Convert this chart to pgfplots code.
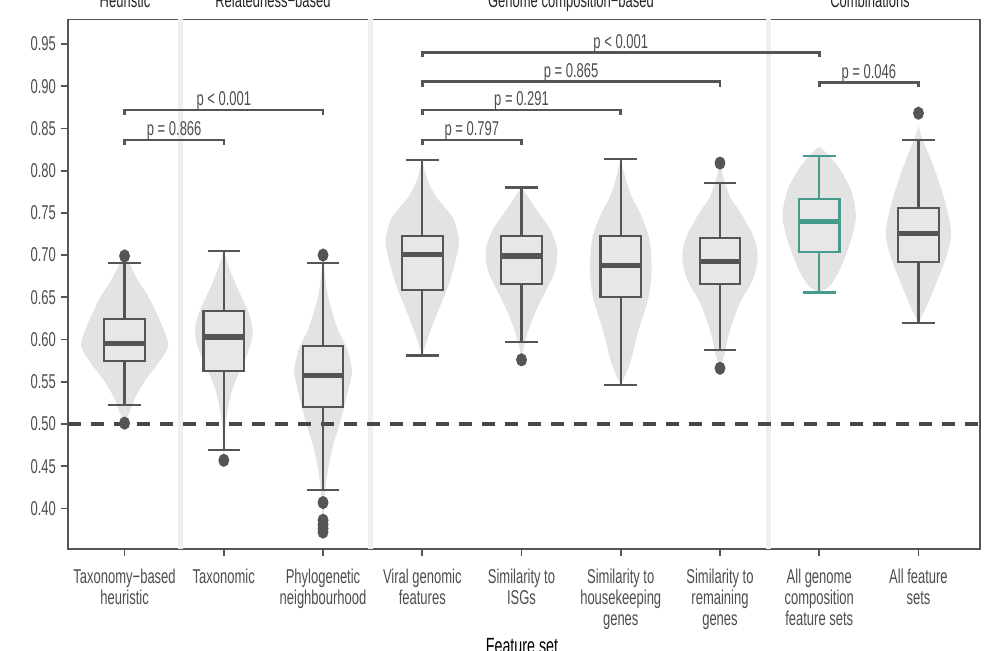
\documentclass[border=0pt]{standalone}
\usepackage{fontspec}
\setmainfont[FakeStretch=0.65]{Liberation Sans}
\usepackage{pgfplots}
\usepackage{pgfplotstable}
\pgfplotsset{compat=1.18}
\usepgfplotslibrary{statistics}

\definecolor{vgrey}{HTML}{E3E3E3}
\definecolor{bgrey}{HTML}{E7E7E7}
\definecolor{lgrey}{HTML}{555555}
\definecolor{tgrey}{HTML}{4D4D4D}
\definecolor{sepgrey}{HTML}{EFEFEF}
\definecolor{teal8}{RGB}{70,155,140}

% violin outlines: y, half-width (category units)
\pgfplotstableread{
y w
0.500 0
0.517 0.06
0.532 0.11
0.552 0.21
0.572 0.34
0.592 0.44
0.610 0.40
0.627 0.34
0.651 0.24
0.671 0.13
0.690 0.05
0.700 0
}\vA
\pgfplotstableread{
y w
0.457 0
0.480 0.01
0.502 0.02
0.524 0.05
0.546 0.10
0.570 0.19
0.594 0.27
0.613 0.29
0.632 0.25
0.650 0.18
0.671 0.10
0.690 0.04
0.706 0
}\vB
\pgfplotstableread{
y w
0.370 0
0.390 0.01
0.418 0.02
0.446 0.05
0.474 0.10
0.501 0.17
0.533 0.24
0.560 0.29
0.572 0.28
0.590 0.24
0.612 0.15
0.630 0.10
0.651 0.05
0.675 0.02
0.700 0
}\vC
\pgfplotstableread{
y w
0.581 0
0.603 0.06
0.631 0.15
0.663 0.26
0.691 0.33
0.714 0.37
0.730 0.35
0.746 0.30
0.769 0.14
0.790 0.05
0.813 0
}\vD
\pgfplotstableread{
y w
0.576 0
0.590 0.02
0.611 0.07
0.635 0.15
0.659 0.25
0.682 0.34
0.706 0.36
0.730 0.29
0.754 0.15
0.770 0.06
0.780 0
}\vE
\pgfplotstableread{
y w
0.546 0
0.571 0.09
0.611 0.18
0.650 0.28
0.682 0.31
0.718 0.29
0.746 0.21
0.769 0.11
0.790 0.05
0.814 0
}\vF
\pgfplotstableread{
y w
0.566 0
0.585 0.05
0.611 0.10
0.643 0.20
0.671 0.33
0.695 0.38
0.718 0.35
0.746 0.23
0.769 0.10
0.790 0.04
0.809 0
}\vG
\pgfplotstableread{
y w
0.656 0
0.660 0.07
0.667 0.13
0.686 0.22
0.718 0.32
0.746 0.37
0.777 0.32
0.805 0.19
0.820 0.08
0.8285 0
}\vH
\pgfplotstableread{
y w
0.620 0
0.639 0.08
0.667 0.18
0.698 0.28
0.726 0.33
0.7575 0.28
0.789 0.20
0.8207 0.10
0.840 0.03
0.855 0
}\vI

\begin{document}
\begin{tikzpicture}
\begin{axis}[
  name=ax, at={(0,0)}, anchor=south west,
  scale only axis, width=456pt, height=264.75pt,
  xmin=0.43, xmax=9.62, ymin=0.352, ymax=0.979,
  xtick={1,2,3,4,5,6,7,8,9},
  xticklabels={{Taxonomy−based\\heuristic},{Taxonomic},{Phylogenetic\\neighbourhood},{Viral genomic\\features},{Similarity to\\ISGs},{Similarity to\\housekeeping\\genes},{Similarity to\\remaining\\genes},{All genome\\composition\\feature sets},{All feature\\sets}},
  ytick={0.40,0.45,0.50,0.55,0.60,0.65,0.70,0.75,0.80,0.85,0.90,0.95},
  yticklabel style={xshift=1pt, /pgf/number format/.cd, fixed, fixed zerofill, precision=2, assume math mode=true},
  tick align=outside, xtick pos=bottom, ytick pos=left,
  major tick length=3.5pt,
  tick style={lgrey, line width=0.9pt},
  axis line style={lgrey, line width=0.6pt},
  ticklabel style={font=\fontsize{10}{10.5}\selectfont, text=tgrey},
  xticklabel style={align=center, anchor=north, yshift=-3pt},
  boxplot/every median/.style={line width=2.6pt},
  boxplot/draw direction=y,
]
% panel separators
\addplot[sepgrey, line width=2.5pt] coordinates {(1.56,0.352) (1.56,0.979)};
\addplot[sepgrey, line width=2.5pt] coordinates {(3.475,0.352) (3.475,0.979)};
\addplot[sepgrey, line width=2.5pt] coordinates {(7.49,0.352) (7.49,0.979)};

% violins (two halves each)
\addplot[fill=vgrey, draw=none, smooth] table[x expr=1-\thisrow{w}, y=y] {\vA};
\addplot[fill=vgrey, draw=none, smooth] table[x expr=1+\thisrow{w}, y=y] {\vA};
\addplot[fill=vgrey, draw=none, smooth] table[x expr=2-\thisrow{w}, y=y] {\vB};
\addplot[fill=vgrey, draw=none, smooth] table[x expr=2+\thisrow{w}, y=y] {\vB};
\addplot[fill=vgrey, draw=none, smooth] table[x expr=3-\thisrow{w}, y=y] {\vC};
\addplot[fill=vgrey, draw=none, smooth] table[x expr=3+\thisrow{w}, y=y] {\vC};
\addplot[fill=vgrey, draw=none, smooth] table[x expr=4-\thisrow{w}, y=y] {\vD};
\addplot[fill=vgrey, draw=none, smooth] table[x expr=4+\thisrow{w}, y=y] {\vD};
\addplot[fill=vgrey, draw=none, smooth] table[x expr=5-\thisrow{w}, y=y] {\vE};
\addplot[fill=vgrey, draw=none, smooth] table[x expr=5+\thisrow{w}, y=y] {\vE};
\addplot[fill=vgrey, draw=none, smooth] table[x expr=6-\thisrow{w}, y=y] {\vF};
\addplot[fill=vgrey, draw=none, smooth] table[x expr=6+\thisrow{w}, y=y] {\vF};
\addplot[fill=vgrey, draw=none, smooth] table[x expr=7-\thisrow{w}, y=y] {\vG};
\addplot[fill=vgrey, draw=none, smooth] table[x expr=7+\thisrow{w}, y=y] {\vG};
\addplot[fill=vgrey, draw=none, smooth] table[x expr=8-\thisrow{w}, y=y] {\vH};
\addplot[fill=vgrey, draw=none, smooth] table[x expr=8+\thisrow{w}, y=y] {\vH};
\addplot[fill=vgrey, draw=none, smooth] table[x expr=9-\thisrow{w}, y=y] {\vI};
\addplot[fill=vgrey, draw=none, smooth] table[x expr=9+\thisrow{w}, y=y] {\vI};

% reference line
\addplot[color=black!72, line width=1.6pt, dash pattern=on 6.5pt off 5pt] coordinates {(0.43,0.5) (9.62,0.5)};

% boxes
\pgfplotsset{bx/.style={draw=lgrey, fill=bgrey, line width=1.1pt, mark=*, mark size=2.7pt, mark options={fill=lgrey, draw=lgrey, xscale=0.8, solid}}}
\addplot[bx, boxplot prepared={draw position=1, box extend=0.41, lower whisker=0.5225, lower quartile=0.575, median=0.595, upper quartile=0.624, upper whisker=0.691}] table[row sep=\\, y index=0] {0.699\\0.501\\};
\addplot[bx, boxplot prepared={draw position=2, box extend=0.41, lower whisker=0.469, lower quartile=0.563, median=0.603, upper quartile=0.634, upper whisker=0.705}] table[row sep=\\, y index=0] {0.457\\};
\addplot[bx, boxplot prepared={draw position=3, box extend=0.41, lower whisker=0.422, lower quartile=0.5205, median=0.557, upper quartile=0.592, upper whisker=0.691}] table[row sep=\\, y index=0] {0.700\\0.407\\0.386\\0.381\\0.376\\0.372\\};
\addplot[bx, boxplot prepared={draw position=4, box extend=0.41, lower whisker=0.581, lower quartile=0.659, median=0.701, upper quartile=0.7227, upper whisker=0.813}] coordinates {};
\addplot[bx, boxplot prepared={draw position=5, box extend=0.41, lower whisker=0.5975, lower quartile=0.666, median=0.699, upper quartile=0.7227, upper whisker=0.780}] table[row sep=\\, y index=0] {0.576\\};
\addplot[bx, boxplot prepared={draw position=6, box extend=0.41, lower whisker=0.546, lower quartile=0.650, median=0.688, upper quartile=0.7227, upper whisker=0.8136}] coordinates {};
\addplot[bx, boxplot prepared={draw position=7, box extend=0.41, lower whisker=0.5877, lower quartile=0.666, median=0.692, upper quartile=0.720, upper whisker=0.785}] table[row sep=\\, y index=0] {0.809\\0.566\\};
\addplot[bx, draw=teal8, boxplot prepared={draw position=8, box extend=0.41, lower whisker=0.6556, lower quartile=0.704, median=0.7397, upper quartile=0.7666, upper whisker=0.8175}] coordinates {};
\addplot[bx, boxplot prepared={draw position=9, box extend=0.41, lower whisker=0.620, lower quartile=0.692, median=0.726, upper quartile=0.7555, upper whisker=0.8365}] table[row sep=\\, y index=0] {0.868\\};

% significance brackets
\pgfplotsset{br/.style={lgrey, line width=1.3pt}}
\addplot[br] coordinates {(1,0.8305) (1,0.8365) (2,0.8365) (2,0.8305)};
\addplot[br] coordinates {(1,0.866) (1,0.872) (3,0.872) (3,0.866)};
\addplot[br] coordinates {(4,0.8305) (4,0.8365) (5,0.8365) (5,0.8305)};
\addplot[br] coordinates {(4,0.866) (4,0.872) (6,0.872) (6,0.866)};
\addplot[br] coordinates {(4,0.8995) (4,0.9055) (7,0.9055) (7,0.8995)};
\addplot[br] coordinates {(4,0.934) (4,0.940) (8,0.940) (8,0.934)};
\addplot[br] coordinates {(8,0.8985) (8,0.9045) (9,0.9045) (9,0.8985)};

\tikzset{pl/.style={anchor=base, yshift=2pt, text=tgrey, font=\fontsize{10}{10.5}\selectfont}}
\node[pl] at (axis cs:1.5,0.8365) {p = 0.866};
\node[pl] at (axis cs:2,0.872) {p < 0.001};
\node[pl] at (axis cs:4.5,0.8365) {p = 0.797};
\node[pl] at (axis cs:5,0.872) {p = 0.291};
\node[pl] at (axis cs:5.5,0.9055) {p = 0.865};
\node[pl] at (axis cs:6,0.940) {p < 0.001};
\node[pl] at (axis cs:8.5,0.9045) {p = 0.046};
\end{axis}

% facet strip labels (cut by page edge as in reference)
\begin{scope}[every node/.style={anchor=base, text=black!85, font=\fontsize{10}{10.5}\selectfont}]
\node at (28.5pt,270.8pt) {Heuristic};
\node at (102.5pt,270.8pt) {Relatedness−based};
\node at (251.5pt,270.8pt) {Genome composition−based};
\node at (401pt,270.8pt) {Combinations};
\end{scope}
\node[anchor=base, font=\fontsize{11}{12}\selectfont] at (227pt,-52.5pt) {Feature set};

\pgfresetboundingbox
\useasboundingbox (-34pt,-51pt) rectangle (466pt,274.5pt);
\end{tikzpicture}
\end{document}
